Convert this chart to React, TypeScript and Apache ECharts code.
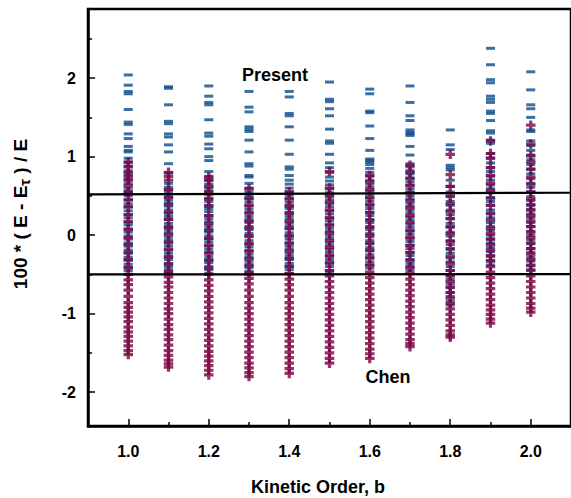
import React, { useEffect, useRef } from "react";
import * as echarts from "echarts";

// Kinetic order columns
const orders = [1.0, 1.1, 1.2, 1.3, 1.4, 1.5, 1.6, 1.7, 1.8, 1.9, 2.0];

// "Present" deviations per kinetic order (top to bottom)
const present10 = [2.04,1.91,1.83,1.80,1.60,1.44,1.41,1.29,1.23,1.13,1.08,1.06,0.98,0.93,0.88,0.82,0.77,0.71,0.66,0.60,0.56,0.53,0.50,0.45,0.40,0.36,0.31,0.26,0.22,0.17,0.13,0.08,0.04,-0.01,-0.05,-0.10,-0.14,-0.19,-0.23,-0.28,-0.32,-0.37,-0.41,-0.45,-0.50];
const present11 = [1.89,1.87,1.66,1.45,1.42,1.29,1.25,1.15,1.06,0.91,0.79,0.66,0.61,0.57,0.53,0.49,0.45,0.41,0.37,0.32,0.28,0.24,0.20,0.15,0.11,0.07,0.03,-0.02,-0.06,-0.10,-0.14,-0.19,-0.23,-0.27,-0.31,-0.36,-0.40,-0.44,-0.48];
const present12 = [1.90,1.77,1.69,1.66,1.47,1.30,1.26,1.16,1.10,1.00,0.95,0.81,0.75,0.70,0.65,0.60,0.56,0.52,0.47,0.43,0.38,0.34,0.30,0.25,0.21,0.17,0.12,0.08,0.04,-0.01,-0.05,-0.09,-0.14,-0.18,-0.22,-0.27,-0.31,-0.35,-0.40,-0.44,-0.49];
const present13 = [1.83,1.63,1.57,1.38,1.35,1.32,1.21,1.06,0.91,0.88,0.76,0.74,0.66,0.60,0.55,0.50,0.46,0.42,0.37,0.33,0.29,0.24,0.20,0.16,0.11,0.07,0.02,-0.02,-0.07,-0.11,-0.15,-0.20,-0.24,-0.28,-0.33,-0.37,-0.41,-0.46,-0.50];
const present14 = [1.83,1.76,1.55,1.52,1.38,1.21,1.03,0.87,0.84,0.76,0.70,0.65,0.60,0.55,0.51,0.47,0.42,0.38,0.34,0.29,0.25,0.21,0.16,0.12,0.08,0.03,-0.01,-0.05,-0.10,-0.14,-0.18,-0.23,-0.27,-0.31,-0.36,-0.40,-0.44,-0.49];
const present15 = [1.95,1.73,1.70,1.61,1.52,1.35,1.20,1.17,1.03,0.92,0.86,0.80,0.74,0.69,0.64,0.59,0.54,0.49,0.45,0.40,0.36,0.31,0.27,0.22,0.18,0.13,0.09,0.05,0.00,-0.04,-0.09,-0.13,-0.18,-0.22,-0.27,-0.31,-0.36,-0.40,-0.45,-0.49];
const present16 = [1.86,1.80,1.58,1.56,1.39,1.23,1.08,0.97,0.95,0.93,0.90,0.85,0.80,0.75,0.70,0.65,0.61,0.56,0.52,0.47,0.43,0.38,0.34,0.29,0.25,0.20,0.16,0.11,0.07,0.02,-0.02,-0.07,-0.11,-0.16,-0.20,-0.25,-0.29,-0.34,-0.38,-0.42];
const present17 = [1.90,1.69,1.52,1.46,1.34,1.31,1.29,1.27,1.13,1.02,0.91,0.87,0.82,0.78,0.73,0.68,0.64,0.59,0.55,0.50,0.46,0.41,0.37,0.32,0.28,0.23,0.19,0.14,0.10,0.05,0.01,-0.04,-0.08,-0.13,-0.17,-0.22,-0.26,-0.31,-0.36,-0.40,-0.45];
const present18 = [1.34,1.15,1.09,0.89,0.86,0.83,0.70,0.62,0.55,0.49,0.43,0.38,0.32,0.26,0.21,0.15,0.10,0.04,-0.01,-0.07,-0.12,-0.18,-0.23,-0.29,-0.34,-0.40,-0.45,-0.51,-0.56,-0.62,-0.67,-0.73,-0.78,-0.84,-0.89];
const present19 = [2.38,2.17,1.98,1.94,1.77,1.73,1.69,1.58,1.55,1.46,1.33,1.30,1.21,1.17,1.04,0.98,0.92,0.86,0.81,0.75,0.70,0.64,0.59,0.54,0.48,0.43,0.38,0.32,0.27,0.22,0.16,0.11,0.06,0.00,-0.05,-0.10,-0.16,-0.21,-0.27,-0.32,-0.38];
const present20 = [2.08,1.85,1.66,1.61,1.50,1.34,1.32,1.20,1.14,1.08,1.02,0.96,0.90,0.84,0.78,0.72,0.66,0.61,0.55,0.49,0.44,0.38,0.33,0.27,0.22,0.16,0.11,0.05,0.00,-0.06,-0.11,-0.17,-0.22,-0.28,-0.33,-0.39,-0.44];

// "Chen" deviations per kinetic order (top to bottom)
const chen10 = [0.93,0.87,0.80,0.75,0.70,0.63,0.55,0.45,0.36,0.26,0.17,0.07,-0.03,-0.12,-0.22,-0.31,-0.41,-0.50,-0.57,-0.63,-0.70,-0.78,-0.86,-0.92,-0.98,-1.04,-1.10,-1.17,-1.23,-1.29,-1.35,-1.41,-1.47,-1.52];
const chen11 = [0.80,0.75,0.70,0.58,0.48,0.39,0.29,0.20,0.10,0.01,-0.09,-0.18,-0.28,-0.37,-0.46,-0.53,-0.60,-0.66,-0.73,-0.80,-0.87,-0.94,-1.00,-1.07,-1.14,-1.20,-1.27,-1.33,-1.40,-1.47,-1.53,-1.59,-1.64,-1.68];
const chen12 = [0.74,0.70,0.62,0.55,0.46,0.37,0.25,0.15,0.06,-0.04,-0.13,-0.23,-0.32,-0.42,-0.50,-0.57,-0.64,-0.71,-0.78,-0.85,-0.92,-0.99,-1.06,-1.13,-1.20,-1.27,-1.34,-1.41,-1.48,-1.54,-1.60,-1.66,-1.72,-1.78];
const chen13 = [0.59,0.47,0.38,0.28,0.18,0.09,-0.01,-0.11,-0.20,-0.30,-0.39,-0.48,-0.55,-0.62,-0.70,-0.78,-0.86,-0.93,-1.00,-1.07,-1.14,-1.21,-1.28,-1.35,-1.42,-1.49,-1.56,-1.63,-1.69,-1.75,-1.80];
const chen14 = [0.55,0.46,0.37,0.28,0.18,0.09,-0.01,-0.10,-0.20,-0.30,-0.40,-0.49,-0.56,-0.63,-0.70,-0.78,-0.86,-0.93,-1.00,-1.07,-1.14,-1.21,-1.28,-1.35,-1.42,-1.49,-1.56,-1.63,-1.70,-1.76];
const chen15 = [0.81,0.60,0.51,0.42,0.32,0.22,0.13,0.03,-0.07,-0.16,-0.26,-0.35,-0.45,-0.52,-0.59,-0.66,-0.73,-0.80,-0.87,-0.94,-1.01,-1.08,-1.15,-1.22,-1.29,-1.36,-1.43,-1.50,-1.57,-1.63];
const chen16 = [0.76,0.68,0.58,0.48,0.39,0.29,0.19,0.10,0.00,-0.10,-0.19,-0.29,-0.38,-0.47,-0.54,-0.61,-0.68,-0.75,-0.82,-0.89,-0.96,-1.03,-1.10,-1.17,-1.24,-1.31,-1.38,-1.45,-1.51,-1.57];
const chen17 = [0.89,0.80,0.72,0.63,0.54,0.44,0.35,0.25,0.16,0.06,-0.03,-0.13,-0.22,-0.32,-0.41,-0.49,-0.56,-0.63,-0.70,-0.77,-0.84,-0.91,-0.98,-1.05,-1.12,-1.19,-1.26,-1.33,-1.38,-1.42];
const chen18 = [1.03,0.77,0.62,0.50,0.40,0.30,0.21,0.11,0.02,-0.08,-0.17,-0.27,-0.36,-0.45,-0.52,-0.59,-0.66,-0.73,-0.80,-0.87,-0.94,-1.01,-1.08,-1.15,-1.22,-1.27,-1.30];
const chen19 = [1.20,1.04,0.98,0.86,0.76,0.66,0.57,0.47,0.38,0.28,0.19,0.09,0.02,-0.05,-0.12,-0.19,-0.26,-0.33,-0.40,-0.47,-0.54,-0.61,-0.68,-0.75,-0.82,-0.89,-0.95,-1.01,-1.07,-1.12];
const chen20 = [1.40,1.16,1.01,0.93,0.84,0.74,0.65,0.55,0.46,0.39,0.32,0.25,0.18,0.11,0.04,-0.03,-0.10,-0.17,-0.24,-0.31,-0.38,-0.45,-0.52,-0.59,-0.66,-0.73,-0.80,-0.87,-0.93,-0.98];

const presentCols = [present10, present11, present12, present13, present14, present15, present16, present17, present18, present19, present20];
const chenCols = [chen10, chen11, chen12, chen13, chen14, chen15, chen16, chen17, chen18, chen19, chen20];

// Reference band lines
const upperLine = [[0.9, 0.52], [2.1, 0.54]];
const lowerLine = [[0.9, -0.5], [2.1, -0.495]];

// Tick values
const xMajorTicks = [1.0, 1.2, 1.4, 1.6, 1.8, 2.0];
const xMinorTicks = [1.1, 1.3, 1.5, 1.7, 1.9];
const yMajorTicks = [-2, -1, 0, 1, 2];
const yMinorTicks = [-1.5, -0.5, 0.5, 1.5, 2.5];

const FONT = "'Liberation Sans', Arial, Helvetica, sans-serif";
const PLUS = "path://M3.3,0H6.7V3.3H10V6.7H6.7V10H3.3V6.7H0V3.3H3.3Z";

export default function App() {
  const ref = useRef<HTMLDivElement>(null);

  useEffect(() => {
    if (!ref.current) return;
    const chart = echarts.init(ref.current, null, { renderer: "svg" });

    const toPts = (cols: number[][]) => {
      const out: number[][] = [];
      cols.forEach((vals, i) => vals.forEach((v) => out.push([orders[i], v])));
      return out;
    };

    const gridCfg = { left: 88, top: 9, width: 484, height: 417 };
    const lbl = { fontFamily: FONT, fontWeight: "bold" as const, fontSize: 16, color: "#000" };

    const option: any = {
      animation: false,
      backgroundColor: "#fff",
      grid: { ...gridCfg, show: true, borderColor: "#000", borderWidth: 2.5, backgroundColor: "transparent" },
      xAxis: [
        {
          type: "value", min: 0.9, max: 2.1, position: "bottom",
          axisLine: { show: true, onZero: false, lineStyle: { color: "#000", width: 2.5 } },
          axisTick: { show: true, inside: true, length: 7, customValues: xMajorTicks, lineStyle: { color: "#000", width: 1.5 } },
          axisLabel: { show: true, customValues: xMajorTicks, formatter: (v: number) => v.toFixed(1), margin: 17, ...lbl },
          splitLine: { show: false },
        },
        {
          type: "value", min: 0.9, max: 2.1, position: "bottom",
          axisLine: { show: false, onZero: false },
          axisTick: { show: true, inside: true, length: 4, customValues: xMinorTicks, lineStyle: { color: "#000", width: 1.5 } },
          axisLabel: { show: false },
          splitLine: { show: false },
        },
      ],
      yAxis: [
        {
          type: "value", min: -2.43, max: 2.88, position: "left",
          axisLine: { show: true, onZero: false, lineStyle: { color: "#000", width: 2.5 } },
          axisTick: { show: true, inside: true, length: 7, customValues: yMajorTicks, lineStyle: { color: "#000", width: 1.5 } },
          axisLabel: { show: true, customValues: yMajorTicks, margin: 12, ...lbl },
          splitLine: { show: false },
        },
        {
          type: "value", min: -2.43, max: 2.88, position: "left",
          axisLine: { show: false, onZero: false },
          axisTick: { show: true, inside: true, length: 4, customValues: yMinorTicks, lineStyle: { color: "#000", width: 1.5 } },
          axisLabel: { show: false },
          splitLine: { show: false },
        },
      ],
      series: [
        {
          name: "Present", type: "scatter", xAxisIndex: 0, yAxisIndex: 0,
          symbol: "rect", symbolSize: [9, 3],
          itemStyle: { color: "#0a4b8c" },
          data: toPts(presentCols), z: 2,
        },
        {
          name: "Chen", type: "scatter", xAxisIndex: 0, yAxisIndex: 0,
          symbol: PLUS, symbolSize: 9.5,
          itemStyle: { color: "#7a0342" },
          data: toPts(chenCols), z: 3,
        },
        {
          type: "line", xAxisIndex: 0, yAxisIndex: 0, data: upperLine, symbol: "none",
          lineStyle: { color: "#000", width: 2.2 }, z: 4,
        },
        {
          type: "line", xAxisIndex: 0, yAxisIndex: 0, data: lowerLine, symbol: "none",
          lineStyle: { color: "#000", width: 2.2 }, z: 4,
        },
      ],
      graphic: [
        { type: "text", x: 275, y: 75, z: 10, style: { text: "Present", fontFamily: FONT, fontWeight: "bold", fontSize: 18, fill: "#000", align: "center", verticalAlign: "middle" } },
        { type: "text", x: 388, y: 377, z: 10, style: { text: "Chen", fontFamily: FONT, fontWeight: "bold", fontSize: 18, fill: "#000", align: "center", verticalAlign: "middle" } },
        { type: "text", x: 318, y: 487, z: 10, style: { text: "Kinetic Order, b", fontFamily: FONT, fontWeight: "bold", fontSize: 18, fill: "#000", align: "center", verticalAlign: "middle" } },
        {
          type: "text", x: 20, y: 214, rotation: Math.PI / 2, z: 10,
          style: {
            text: "{a|100 * ( E - E}{s|τ}{a| ) / E}",
            align: "center", verticalAlign: "middle",
            rich: {
              a: { fontFamily: FONT, fontWeight: "bold", fontSize: 19, fill: "#000", lineHeight: 24, verticalAlign: "middle" },
              s: { fontFamily: FONT, fontWeight: "bold", fontSize: 15, fill: "#000", lineHeight: 24, verticalAlign: "bottom", padding: [10, 0, 0, 0] },
            },
          },
        },
      ],
    };

    chart.setOption(option);
    return () => chart.dispose();
  }, []);

  return <div ref={ref} style={{ width: 571, height: 498, position: "absolute", left: 0, top: 0 }} />;
}
